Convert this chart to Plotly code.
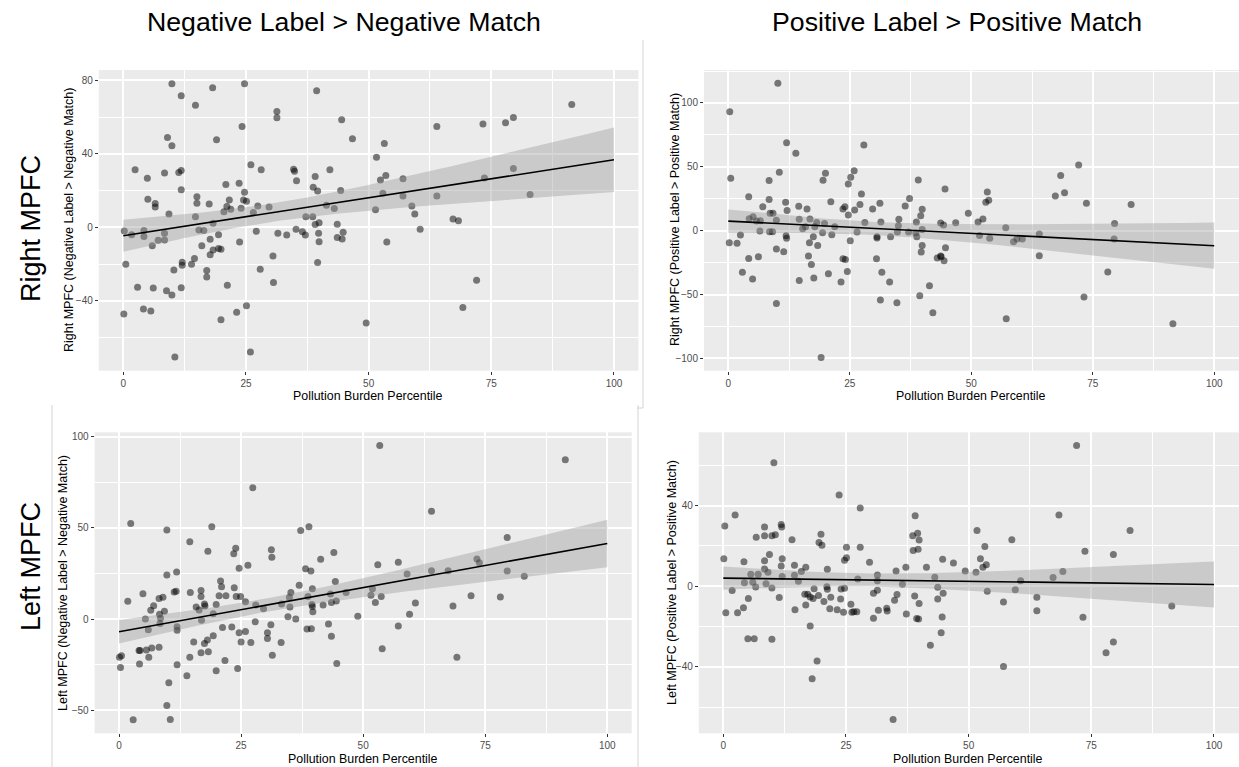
import numpy as np
import plotly.graph_objects as go

# (Pollution Burden Percentile, MPFC contrast) per participant, one list per panel
right_neg = [
    (0.2, -2), (1.7, -4), (2.4, 31.3), (4.2, -1.8), (4.2, -5), (4.9, 26.7), (5.0, 15.3), (6.5, 13), (6.5, 11),
    (7.1, -7), (8.4, 29.5), (8.4, -3.3), (9.0, 48.9), (9.3, 7.3), (9.9, 44.4), (9.9, 78.2), (11.3, 29.8),
    (11.8, 30.9), (11.8, 20.4), (11.8, 71.6), (14.7, 66.5), (14.7, 5.8), (15.0, 16.7), (15.0, 13.1), (15.4, -1.5),
    (16.4, -1.8), (17.5, 12.7), (17.7, -6.5), (18.2, 76), (18.3, 2.2), (19.0, 47.6), (19.4, -4), (20.5, 8.5),
    (20.9, 23.3), (21.1, 11.3), (21.6, 14.9), (21.9, 9.8), (23.6, 24), (24.0, 10.4), (24.2, 54.9), (24.5, 14.9),
    (24.7, 19.1), (24.7, 78.2), (25.1, 14.2), (26.0, 34), (26.5, 8), (27.1, -2.2), (27.4, 11.6), (28.1, 31.3),
    (29.7, 11.1), (31.3, 63.1), (31.3, 59.6), (31.5, -3.3), (33.3, -4.2), (34.7, 31.6), (34.9, 30.5), (35.3, 25.3),
    (35.2, -1.1), (36.5, -2.4), (37.2, 5.8), (37.1, -4.2), (38.6, 5.8), (38.7, 21.8), (39.1, 27.6), (39.4, 74.4),
    (39.6, 19.8), (39.9, 2.5), (39.1, 1.5), (39.8, -3.3), (41.4, 12), (42.1, 31.3), (43.0, 10.2), (43.6, 1.6),
    (44.3, 20), (44.5, 58.5), (43.6, -5.6), (44.8, -2.7), (46.7, 48.2), (44.6, -6.4),
    (0.5, -20.1), (0.1, -47.2), (2.9, -32.6), (4.1, -44.5), (5.6, -45.6), (5.9, -10.1), (6.1, -33.1), (8.4, -6.9),
    (8.8, -34.6), (9.9, -36.9), (10.3, -23.2), (10.5, -70.6), (11.8, -32.9), (12.0, -19), (12.0, -20.6),
    (13.9, -20.1), (14.5, -17), (16.0, -10.1), (17.0, -23.5), (17.0, -27.1), (17.7, -15), (18.3, -12.3),
    (19.4, -11.6), (19.9, -11.9), (19.9, -50.3), (21.2, -31.5), (23.1, -46.3), (23.7, -8), (25.1, -42.7),
    (25.9, -67.9), (27.9, -22.8), (30.5, -15.6), (30.6, -30), (39.6, -19.2), (39.9, -7.8), (49.5, -52.1),
    (91.4, 66.9), (63.9, 54.9), (73.3, 56.2), (77.9, 56.9), (79.5, 59.8), (53.2, 45.6), (51.6, 38.2), (53.5, 28.2),
    (52.4, 25.8), (57.0, 26.4), (79.5, 32), (73.6, 26.9), (52.9, 18.5), (57.0, 17.1), (63.9, 17.1), (82.9, 17.8),
    (51.4, 9.6), (58.8, 11.6), (59.4, 7.3), (67.2, 4.5), (68.3, 3.6), (60.5, -1.1), (53.7, -8), (72.0, -28.8),
    (69.2, -43.6),
]

right_pos = [
    (0.3, 93.2), (0.5, 41), (10.2, 115.4), (12.0, 68.9), (13.9, 60.6), (10.5, 45.7), (8.4, 39.2), (4.2, 26.6),
    (8.4, 24.5), (7.1, 18.8), (11.8, 22.2), (12.1, 15.9), (14.5, 19.1), (16.2, 17), (8.6, 13.6), (9.2, 13.6),
    (9.9, 8.1), (5.1, 11), (4.3, 9.4), (5.8, 7.6), (6.6, 7.8), (6.5, -0.3), (8.5, -0.8), (9.1, -0.8), (2.5, -3.4),
    (11.9, -3.9), (14.6, 8.9), (15.3, 1.6), (15.9, 3.1), (16.8, 9.1), (17.5, -4.7), (17.8, 3.1), (19.5, 39.4),
    (20.0, 44.9), (18.2, 6.5), (19.8, 5.7), (21.1, 22.7), (19.4, -1.6), (21.3, -3.1), (21.9, 3.1), (23.6, 17),
    (24.0, 18.8), (24.7, 36.6), (25.2, 41.8), (25.9, 47), (24.7, 12.3), (26.0, 16.2), (27.4, 28.7), (27.1, 20.6),
    (27.9, 67.1), (28.1, 6.5), (26.5, -1), (29.7, 17), (31.2, 21.4), (31.4, 6.8), (30.6, -4.7), (33.4, -4.7),
    (35.1, 8.9), (35.0, 3.9), (34.8, -1), (36.4, 19.3), (37.3, 25.3), (37.1, -1), (39.1, 39.7), (38.7, 6.8),
    (39.6, 11.7), (39.9, 16.7), (38.6, -1.8), (39.9, 1), (44.6, 32.6), (43.7, 6), (44.3, 4.4), (46.8, 6.3),
    (38.8, -4.7),
    (72.1, 51.4), (68.4, 43.3), (67.3, 27.2), (69.2, 29.8), (73.7, 21.4), (82.9, 20.6), (53.3, 30.3), (53.0, 22.2),
    (53.6, 23.8), (49.4, 13.6), (51.4, 6.8), (52.4, 9.1), (57.1, 2.3), (51.7, -3.7), (53.8, -6), (64.0, -2.6),
    (79.5, 5.7), (59.4, -6.5), (60.5, -6.5), (79.4, -6.5),
    (43.8, -20.4), (44.4, -23.5), (44.7, -13.3), (57.2, -68.9), (58.7, -8.6), (64.0, -19.6), (78.1, -32.4),
    (73.2, -52), (91.5, -72.8),
    (0.2, -9.4), (1.8, -9.9), (2.9, -32.6), (4.2, -21.7), (5.0, -37.9), (6.2, -20.4), (9.9, -56.9), (9.9, -14.4),
    (11.4, -16.4), (12.0, -6), (14.6, -38.9), (16.5, -19.8), (17.1, -26.4), (16.7, -9.4), (17.6, -37.1),
    (18.4, -11.5), (19.1, -99.2), (20.6, -33.7), (23.2, -40.2), (23.6, -21.9), (24.1, -22.5), (24.5, -31.9),
    (25.1, -7.8), (30.6, -5.7), (30.5, -21.9), (31.6, -32.6), (31.3, -54.3), (33.2, -40.2), (34.7, -56.4),
    (39.4, -50.9), (39.7, -16.7), (39.9, -11.5), (41.4, -43.1), (42.1, -64.2), (43.0, -21.4), (43.7, -19.8),
]

left_neg = [
    (0.1, -21), (0.5, -20.1), (0.3, -26.5), (1.8, 9.7), (2.4, 52.3), (2.9, -55.2), (4.1, -17.2), (4.3, -17.2),
    (4.2, -24.7), (4.9, 13.9), (5.4, 0), (5.6, -17), (6.0, -5.9), (6.1, -20.9), (6.7, -15.9), (6.5, 4.8),
    (7.1, 7.3), (8.2, 11.3), (8.3, 2.6), (8.4, -2.4), (8.2, -15.5), (8.5, 0.4), (9.0, 11.9), (9.3, 4.2),
    (9.8, 48.8), (9.8, 24.1), (10.2, -34.9), (9.8, -47.4), (10.5, -55.1), (11.3, 14.8), (11.7, 15.2),
    (11.8, 25.8), (11.9, -4.2), (11.9, -6.2), (11.9, -25.1), (13.9, -31.1), (14.5, 42.4), (14.6, 14.5),
    (14.5, -20.9), (15.3, -12.6), (15.8, 6.6), (16.4, 4.9), (16.8, 15.7), (16.8, 12.4), (16.9, -0.7),
    (16.8, -18.5), (17.5, -13.4), (17.5, 8.2), (17.6, 7.1), (18.1, -11.5), (18.2, 37.1), (18.3, -17.9),
    (19.0, 50.5), (19.3, -9.1), (19.3, 2.9), (19.9, -28.4), (19.9, 8), (20.5, 12.8), (20.8, 20.9), (21.0, 17.7),
    (21.2, -4.6), (21.7, -22.7), (21.9, 12.8), (23.1, -4.4), (23.5, 35.7), (23.9, 38.8), (23.6, 17.2),
    (24.0, 12.4), (24.3, -27.1), (24.6, 27.8), (24.6, -7.5), (24.9, 12.4), (25.0, -12.6), (25.9, 9.5),
    (25.9, -6.8), (26.4, 29.5), (27.0, -12.8), (27.4, 71.9), (27.9, -1.5), (28.0, 7.7), (29.6, 5.7),
    (30.4, -10.6), (30.4, -7.5), (31.2, 38), (31.3, 33.8), (31.1, -3.1), (31.4, -19.8), (33.2, -12.8),
    (33.3, 8.2), (34.6, 1.3), (35.0, 6.6), (34.9, 11.9), (35.2, 14.5), (36.2, 0), (36.9, 18.5), (37.2, 48.5),
    (38.2, 27.6), (38.5, -5.5), (38.9, 50.5), (38.7, 12.4), (39.3, 26.3), (39.4, -5.3), (39.6, 16.6),
    (39.5, 8), (39.6, 6.8), (39.7, 4), (41.3, 32.7), (41.8, 7.7), (42.9, -2.7), (43.3, 13.7), (43.5, -9.5),
    (43.5, 9.1), (44.0, 36.4), (44.3, 20.5), (44.5, 9.9), (44.6, -24.3), (46.5, 14.5), (48.9, 1.5),
    (53.4, 95.1), (91.4, 87.3), (64.0, 59.1), (79.5, 44.6), (57.2, 31.1), (53.0, 29.8), (73.3, 32.9),
    (73.8, 30.9), (59.0, 24.7), (64.0, 26.5), (67.4, 26.5), (79.5, 26.3), (83.0, 23.4), (51.9, 16.6),
    (51.6, 13), (53.7, 12.4), (52.5, 9), (60.7, 8.8), (72.1, 12.8), (78.1, 12.1), (68.4, 7.1), (59.5, 2.6),
    (57.2, -3.8), (53.9, -16.3), (69.2, -21),
]

left_pos = [
    (0.3, 29.9), (0.1, 13.6), (0.5, -13.1), (1.8, -2.1), (2.4, 35.4), (2.9, -13.1), (4.2, 12.2), (4.3, 1.8),
    (4.1, -10.6), (5.0, -26), (5.1, -6), (5.6, 6), (6.0, 2), (6.3, -26), (6.6, -0.3), (6.7, 24.3), (7.1, 6),
    (8.4, 29.4), (8.4, 25), (8.4, 12.6), (8.4, 8.6), (8.7, 1.3), (9.1, 6.9), (9.4, 15.7), (9.9, 25),
    (9.9, -0.8), (9.9, -26.3), (10.3, 61.2), (10.6, 25.5), (11.4, -5.6), (11.8, 30.6), (11.9, 29.4),
    (12.0, 13.7), (12.0, 4.8), (11.8, 10.1), (14.0, 23.1), (14.5, 10.4), (14.5, 5.5), (14.6, -11.7),
    (15.3, 2.5), (15.9, 7.3), (16.8, 9.4), (16.6, -4), (16.8, -9.3), (17.2, -4), (17.7, -5.3), (17.7, -19.7),
    (18.1, -45.8), (18.3, -6.1), (18.5, -1.2), (19.1, -37), (19.4, -4.6), (19.5, 21.7), (19.9, 25.8),
    (20.1, 20.3), (20.5, -7.6), (21.1, -0.2), (21.2, 8.4), (21.2, -1.5), (21.7, -11.2), (21.9, -5.5),
    (23.2, -11.6), (23.6, 45.3), (23.9, -6.3), (24.0, -1.3), (24.5, -12.9), (24.7, -1), (24.7, 12.9),
    (25.1, 14.2), (25.1, 19.3), (26.0, -8.9), (26.2, -12.9), (26.6, -12.6), (27.2, -12.6), (27.4, 3.6),
    (27.9, 38.8), (27.9, 19.3), (29.8, 11.9), (30.6, -15.9), (30.6, -3.5), (31.4, -2), (31.4, 5.6),
    (31.6, -11.9), (31.4, 2.8), (33.3, -10.9), (33.4, -12.2), (34.6, -66.1), (34.9, -6.9), (35.2, 7.6),
    (35.4, -4.1), (36.5, 1), (37.2, 9.4), (37.3, -13.7), (38.6, 25), (38.7, 17.7), (39.0, -4.8), (39.1, 35),
    (39.6, 26.3), (39.7, 18.3), (39.9, 23), (39.9, -8.6), (39.4, -16), (39.8, -16.2), (41.4, 9.4),
    (42.2, -29.3), (43.1, 4.5), (43.7, -0.5), (43.7, -6.3), (44.4, -23.1), (44.6, -15.2), (44.7, 13.4),
    (44.8, -3.5), (46.9, 11.6),
    (72.0, 69.8), (68.4, 35.4), (51.7, 27.6), (82.9, 27.6), (58.8, 23.1), (53.3, 19.7), (73.7, 17.4),
    (79.5, 15.7), (52.4, 13.6), (53.6, 10.7), (52.9, 9.4), (49.3, 7.6), (51.5, 6.9), (69.2, 7.3), (67.2, 4.3),
    (60.6, 2.8), (53.8, -2.5), (59.5, -1.7), (57.1, -7.8), (63.9, -5.5), (63.9, -12.1), (91.4, -9.8),
    (73.3, -15.4), (79.5, -27.6), (78.0, -32.9), (57.1, -39.8),
]

col_titles = ["Negative Label > Negative Match", "Positive Label > Positive Match"]
row_titles = ["Right MPFC", "Left MPFC"]
x_title = "Pollution Burden Percentile"
y_titles = [
    "Right MPFC (Negative Label > Negative Match)",
    "Right MPFC (Positive Label > Positive Match)",
    "Left MPFC (Negative Label > Negative Match)",
    "Left MPFC (Positive Label > Positive Match)",
]
panels = [right_neg, right_pos, left_neg, left_pos]

W, H = 1239, 767
FIT_RANGE = (0, 100)


def lm_fit(pts, lo, hi, n=101):
    """Least-squares line with a 95% confidence band, as geom_smooth(method='lm')."""
    x = np.array([p[0] for p in pts], dtype=float)
    y = np.array([p[1] for p in pts], dtype=float)
    b1, b0 = np.polyfit(x, y, 1)
    xs = np.linspace(lo, hi, n)
    yhat = b0 + b1 * xs
    dof = len(x) - 2
    s = np.sqrt(np.sum((y - (b0 + b1 * x)) ** 2) / dof)
    se = s * np.sqrt(1 / len(x) + (xs - x.mean()) ** 2 / np.sum((x - x.mean()) ** 2))
    t = 1.978
    return xs, yhat, yhat - t * se, yhat + t * se


def px_x(v):
    return v / W


def px_y(v):
    return 1 - v / H


# pixel boxes of each plotting panel: (left, right, top, bottom)
boxes = [
    (98.8, 638.5, 70, 370.7),
    (704.0, 1239, 70, 370.7),
    (94.6, 631.7, 432.3, 733.3),
    (698.8, 1239, 432.3, 733.3),
]
x_ranges = [[-5, 105], [-5, 105.1], [-5, 105], [-5, 105.1]]
y_ranges = [[-78.06, 85.63], [-109.6, 125.8], [-62.6, 102.3], [-72.9, 76.35]]
y_dticks = [40, 50, 50, 40]

fig = go.Figure()
font_fam = "Liberation Sans, Arial, sans-serif"

for i, pts in enumerate(panels):
    k = "" if i == 0 else str(i + 1)
    xs_pts = [p[0] for p in pts]
    ys_pts = [p[1] for p in pts]
    fig.add_trace(go.Scatter(
        x=xs_pts, y=ys_pts, mode="markers", xaxis="x" + k, yaxis="y" + k,
        marker=dict(size=7, color="rgba(0,0,0,0.5)", line=dict(width=0)),
        showlegend=False, hoverinfo="skip",
    ))
    fx, fy, flo, fhi = lm_fit(pts, *FIT_RANGE)
    fig.add_trace(go.Scatter(
        x=np.concatenate([fx, fx[::-1]]), y=np.concatenate([fhi, flo[::-1]]),
        fill="toself", fillcolor="rgba(153,153,153,0.4)", line=dict(width=0),
        mode="lines", xaxis="x" + k, yaxis="y" + k, showlegend=False, hoverinfo="skip",
    ))
    fig.add_trace(go.Scatter(
        x=fx, y=fy, mode="lines", line=dict(color="black", width=1.6),
        xaxis="x" + k, yaxis="y" + k, showlegend=False, hoverinfo="skip",
    ))

    l, r, t, b = boxes[i]
    common = dict(
        showgrid=True, gridcolor="white", gridwidth=1.5, zeroline=False, showline=False,
        ticks="outside", ticklen=3, tickwidth=1, tickcolor="#333333",
        tickfont=dict(size=10, color="#4d4d4d", family=font_fam),
        fixedrange=True,
    )
    fig.layout["xaxis" + k] = dict(
        common, domain=[px_x(l), min(px_x(r), 1)], range=x_ranges[i], anchor="y" + k,
        tickmode="array", tickvals=[0, 25, 50, 75, 100],
        minor=dict(showgrid=True, gridcolor="white", gridwidth=0.7, tickvals=[12.5, 37.5, 62.5, 87.5], ticks=""),
    )
    d = y_dticks[i]
    fig.layout["yaxis" + k] = dict(
        common, domain=[px_y(b), px_y(t)], range=y_ranges[i], anchor="x" + k,
        tick0=0, dtick=d,
        minor=dict(showgrid=True, gridcolor="white", gridwidth=0.7, tick0=d / 2, dtick=d, ticks=""),
    )

annotations = []
# column and row headings
for cx, txt in zip([344, 957], col_titles):
    annotations.append(dict(x=px_x(cx), y=px_y(22), text=txt, showarrow=False, xref="paper", yref="paper",
                            font=dict(size=26.7, color="black", family=font_fam), xanchor="center", yanchor="middle"))
for cy, txt in zip([229, 567], row_titles):
    annotations.append(dict(x=px_x(31), y=px_y(cy), text=txt, showarrow=False, xref="paper", yref="paper",
                            textangle=-90, font=dict(size=27, color="black", family=font_fam),
                            xanchor="center", yanchor="middle"))
# axis titles
for (cx, cy) in [(368, 396), (971, 396), (363, 759), (968, 759)]:
    annotations.append(dict(x=px_x(cx), y=px_y(cy), text=x_title, showarrow=False, xref="paper", yref="paper",
                            font=dict(size=12.4, color="black", family=font_fam), xanchor="center", yanchor="middle"))
for (cx, cy), txt in zip([(69, 220), (675, 220), (63, 583), (672, 583)], y_titles):
    annotations.append(dict(x=px_x(cx), y=px_y(cy), text=txt, showarrow=False, xref="paper", yref="paper",
                            textangle=-90, font=dict(size=12.5, color="black", family=font_fam),
                            xanchor="center", yanchor="middle"))

# faint frame edges around the left-hand panels
frame = dict(type="line", xref="paper", yref="paper", line=dict(color="#d4d4d4", width=1))
shapes = [
    dict(frame, x0=px_x(643), x1=px_x(643), y0=px_y(40), y1=px_y(408)),
    dict(frame, x0=px_x(637), x1=px_x(643), y0=px_y(408), y1=px_y(408)),
    dict(frame, x0=px_x(52), x1=px_x(52), y0=px_y(405), y1=px_y(767)),
    dict(frame, x0=px_x(638), x1=px_x(638), y0=px_y(405), y1=px_y(767)),
]

fig.update_layout(
    width=W, height=H, margin=dict(l=0, r=0, t=0, b=0),
    paper_bgcolor="white", plot_bgcolor="#ebebeb",
    annotations=annotations, shapes=shapes, showlegend=False,
    font=dict(family=font_fam),
)

fig.write_html("out.html", config={"displayModeBar": False})
